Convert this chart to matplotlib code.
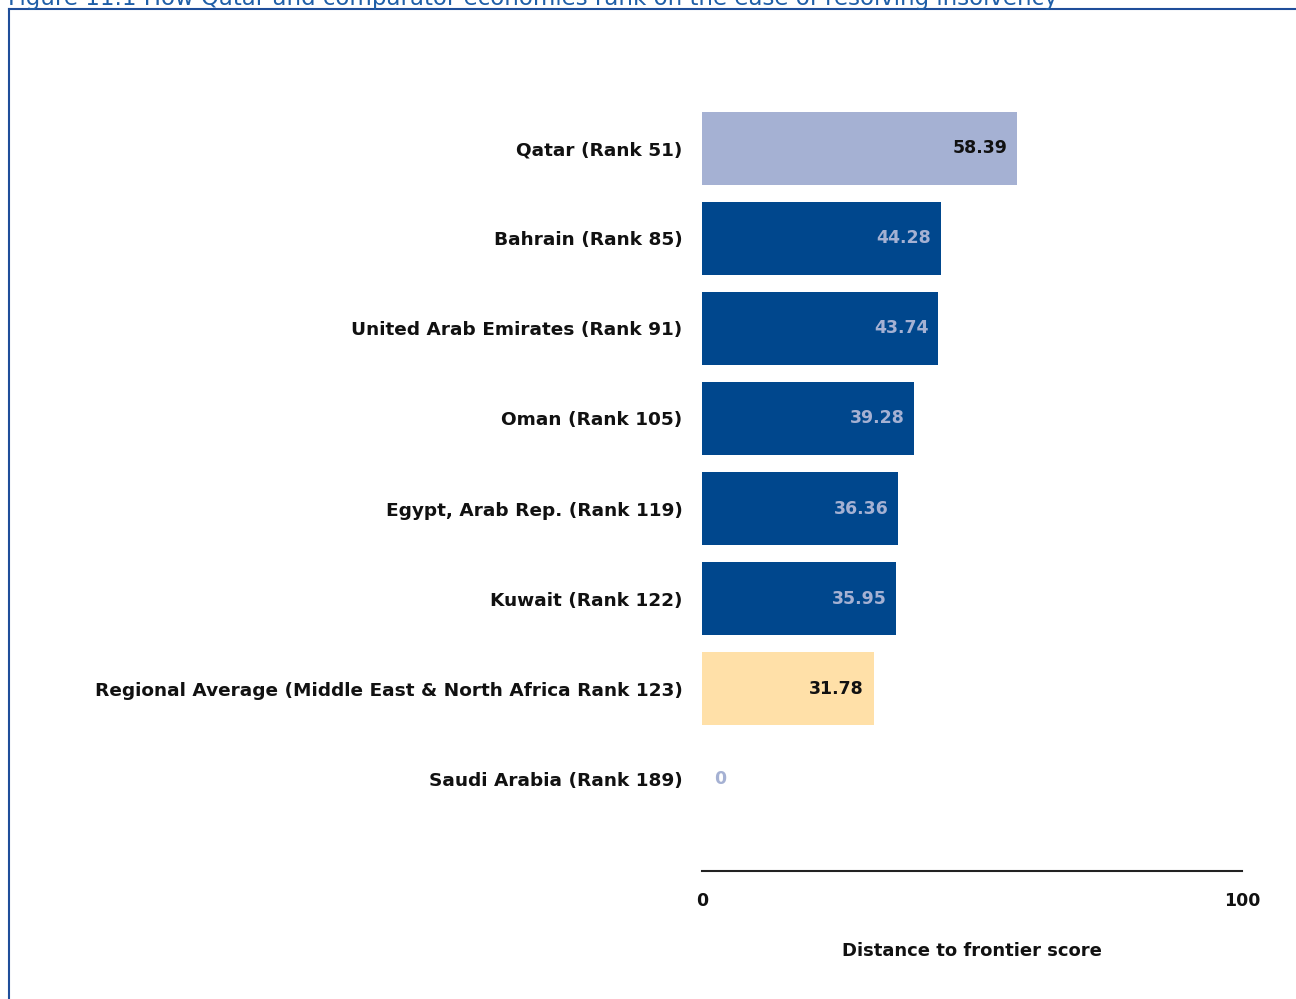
import matplotlib
matplotlib.use("Agg")
import matplotlib.pyplot as plt
from matplotlib.lines import Line2D

categories = ["Qatar (Rank 51)", "Bahrain (Rank 85)", "United Arab Emirates (Rank 91)",
              "Oman (Rank 105)", "Egypt, Arab Rep. (Rank 119)", "Kuwait (Rank 122)",
              "Regional Average (Middle East & North Africa Rank 123)", "Saudi Arabia (Rank 189)"]
values = [58.39, 44.28, 43.74, 39.28, 36.36, 35.95, 31.78, 0]
value_labels = ["58.39", "44.28", "43.74", "39.28", "36.36", "35.95", "31.78", "0"]
x_ticks = [0, 100]
x_label = "Distance to frontier score"
caption = "Figure 11.1 How Qatar and comparator economies rank on the ease of resolving insolvency"

light = "#A5B1D3"
dark = "#00478D"
gold = "#FFE0A8"
bar_colors = [light, dark, dark, dark, dark, dark, gold, light]
label_colors = ["#111111", light, light, light, light, light, "#111111", light]

W, H = 1296, 999
fig = plt.figure(figsize=(W / 100, H / 100), dpi=100)
ax = fig.add_axes([702 / W, 1 - 871 / H, 540 / W, (871 - 103) / H])

ypos = list(range(len(categories)))
ax.barh(ypos, values, height=0.81, color=bar_colors)
ax.set_xlim(0, 100)
ax.set_ylim(7 + (871 - 779) / 90, -0.5)

ax.set_yticks(ypos)
ax.set_yticklabels(categories, fontsize=13.3, fontweight="bold", color="#111111")
ax.set_xticks(x_ticks)
ax.set_xticklabels([str(t) for t in x_ticks], fontsize=12.5, fontweight="bold", color="#111111")
ax.tick_params(axis="y", length=0, pad=14)
ax.tick_params(axis="x", length=0, pad=15)
ax.set_xlabel(x_label, fontsize=13, fontweight="bold", color="#111111", labelpad=23)

for s in ["top", "right", "left"]:
    ax.spines[s].set_visible(False)
ax.spines["bottom"].set_linewidth(1.5)
ax.spines["bottom"].set_color("#222222")

for y, v, lab, c in zip(ypos, values, value_labels, label_colors):
    if v > 5:
        ax.text(v - 1.8, y, lab, ha="right", va="center", fontsize=12.5,
                fontweight="bold", color=c)
    else:
        ax.text(v + 2.2, y, lab, ha="left", va="center", fontsize=12.5,
                fontweight="bold", color=c)

# frame border lines (left and top)
fig.add_artist(Line2D([9 / W, 9 / W], [0, 1 - 9 / H], transform=fig.transFigure,
                      color="#1F4E9A", lw=1.5))
fig.add_artist(Line2D([9 / W, 1], [1 - 9 / H, 1 - 9 / H], transform=fig.transFigure,
                      color="#1F4E9A", lw=1.5))
fig.text(8 / W, 1 + 1 / H, caption, ha="left", va="center", fontsize=16.5,
         color="#1F5FA8")

fig.savefig("out.png", dpi=100)
